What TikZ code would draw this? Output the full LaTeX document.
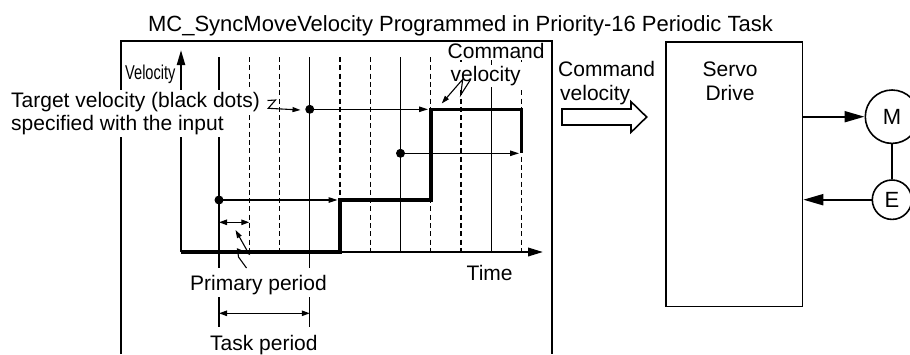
\documentclass[tikz,border=0pt]{standalone}
\usepackage{fontspec}
\usepackage{graphicx}
\setmainfont{Liberation Sans}
\usetikzlibrary{arrows.meta}
\begin{document}
\begin{tikzpicture}[x=1pt,y=-1pt,
  txt/.style={font=\fontsize{21}{24}\selectfont, inner sep=0pt, anchor=base west},
  mask/.style={fill=white, inner xsep=1pt, inner ysep=2pt},
  gridd/.style={line width=1.1pt, dash pattern=on 5pt off 3.3pt},
  grids/.style={line width=1.1pt},
  thinarr/.style={line width=1.1pt, -{Triangle[length=9pt,width=5.5pt]}},
  dimarr/.style={line width=1.1pt, {Triangle[length=8pt,width=5.5pt]}-{Triangle[length=8pt,width=5.5pt]}},
  leader/.style={line width=1.1pt, -{Triangle[length=8pt,width=5pt]}},
  bigarr/.style={line width=2pt, -{Triangle[length=20pt,width=11pt]}},
  dot/.style={circle, fill=black, inner sep=0pt, minimum size=9pt}
]
\useasboundingbox (0,0) rectangle (910,354);

% title
\node[font=\fontsize{22}{26}\selectfont, inner sep=0pt, anchor=base] (title) at (460.5,31) {MC\_SyncMoveVelocity Programmed in Priority-16 Periodic Task};

% grid lines
\foreach \k in {1,2,4,5,7,8,10}
  \draw[gridd] ({219+30.25*\k},57) -- ({219+30.25*\k},252);
\foreach \k in {6,9}
  \draw[grids] ({219+30.25*\k},57) -- ({219+30.25*\k},252);
\foreach \k in {0,3} {
  \draw[grids] ({219+30.25*\k},57) -- ({219+30.25*\k},268);
  \draw[grids] ({219+30.25*\k},297) -- ({219+30.25*\k},327);
}

% frame
\draw[line width=1.6pt] (121,354) -- (121,41) -- (551.7,41) -- (551.7,354);

% velocity profile
\draw[line width=3.6pt, line join=miter] (181,252) -- (340,252) -- (340,200) -- (430.75,200) -- (430.75,109.3) -- (521.5,109.3) -- (521.5,153.3);

% axes
\coordinate (org) at (181,252);
\coordinate (tend) at (543,252);
\coordinate (vend) at (181,50);
\draw[line width=2pt, -{Triangle[length=15pt,width=8.5pt]}] (org) -- (tend);
\draw[line width=2.2pt, -{Triangle[length=15pt,width=8pt]}] (org) -- (vend);

% target dots and arrows
\node[dot] (d1) at (219,200) {};
\node[dot] (d2) at (309.75,109.3) {};
\node[dot] (d3) at (400.5,153.3) {};
\coordinate (e1) at (337.5,200);
\coordinate (e2) at (428,109.3);
\coordinate (e3) at (519,153.3);
\draw[thinarr] (d1.center) -- (e1);
\draw[thinarr] (d2.center) -- (e2);
\draw[thinarr] (d3.center) -- (e3);

% dimension arrows
\coordinate (pp1) at (219,222.3);
\coordinate (pp2) at (249.25,222.3);
\draw[dimarr] (pp1) -- (pp2);
\coordinate (tp1) at (219,313.3);
\coordinate (tp2) at (309.75,313.3);
\draw[dimarr] (tp1) -- (tp2);

% labels
\node[txt, font=\fontsize{20}{22}\selectfont] (vlab) at (125,79.3) {\scalebox{0.73}[1]{Velocity}};
\node[txt, mask] (tv1) at (10,107.3) {Target velocity (black dots)};
\node[txt, mask] (tv2) at (10,130.7) {specified with the input};
\node[txt, fill=white, inner xsep=1pt, inner ysep=1pt] (cv1) at (446.5,58.3) {Command};
\node[txt, fill=white, inner xsep=1pt, inner ysep=1pt] (cv2) at (449.5,81.7) {velocity};
\node[txt] (time) at (466.5,280.7) {Time};
\node[txt] (pp) at (190,290) {Primary period};
\node[txt] (tp) at (210,350) {Task period};

% leaders
\draw[leader] (267.5,100.5) -- (275.5,100) -- (268.3,108.3) -- (300.5,110);
\draw[leader] (470.7,79.3) -- (460.7,95) -- (462.7,79.3) -- (441.7,103.5);
\draw[leader] (246.5,268) -- (238.5,257) -- (237.5,249) -- (249,254) -- (235.5,230);

% right part
\node[txt] (cr1) at (558,76.7) {Command};
\node[txt] (cr2) at (560,100.7) {velocity};
\draw[line width=1.6pt, fill=white] (562,109) -- (631,109) -- (631,101.7) -- (646.7,117) -- (631,132.3) -- (631,125) -- (562,125) -- cycle;

\node[draw, line width=1.6pt, minimum width=136.7pt, minimum height=264.7pt, inner sep=0pt, anchor=north west] (servo) at (665,41) {};
\node[font=\fontsize{21}{24}\selectfont, inner sep=0pt, anchor=base] (sv1) at (730,76.7) {Servo};
\node[font=\fontsize{21}{24}\selectfont, inner sep=0pt, anchor=base] (sv2) at (730,100.7) {Drive};

\node[circle, draw, line width=1.6pt, minimum size=53.4pt, inner sep=0pt, font=\fontsize{22}{24}\selectfont] (M) at (892,116.7) {M};
\node[circle, draw, line width=1.6pt, minimum size=39.4pt, inner sep=0pt, font=\fontsize{22}{24}\selectfont] (E) at (892,199.7) {E};
\draw[line width=1.6pt] (M) -- (E);
\draw[bigarr] (servo.east |- M.center) -- (M.west);
\draw[bigarr] (E.west) -- (servo.east |- E.center);
\end{tikzpicture}
\end{document}
